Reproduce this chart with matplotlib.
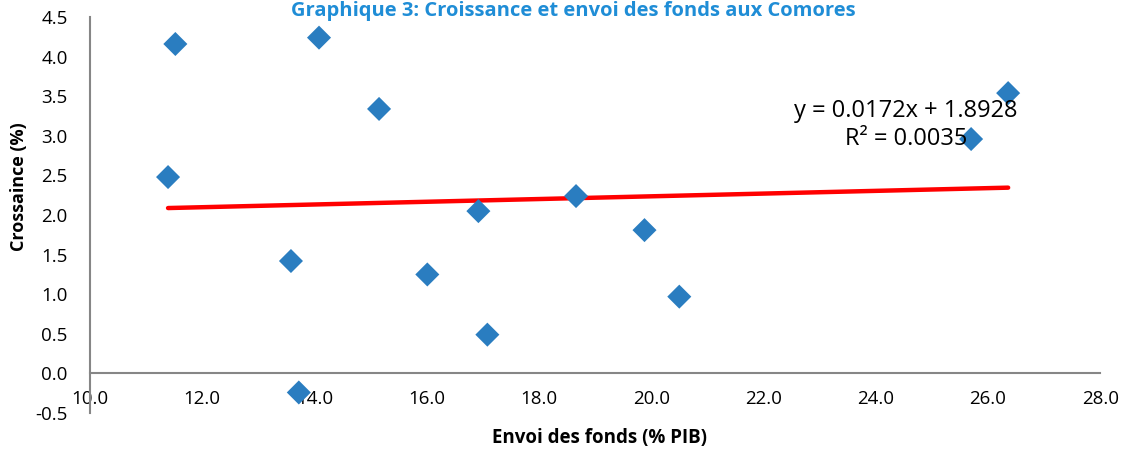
import matplotlib.pyplot as plt

# Envoi des fonds (% PIB) vs Croissance (%)
envoi = [11.39, 11.52, 14.08, 13.58, 13.72, 15.15, 16.01, 16.92, 17.08, 18.66, 19.88, 20.50, 25.70, 26.36]
croissance = [2.48, 4.16, 4.24, 1.42, -0.24, 3.34, 1.25, 2.05, 0.49, 2.24, 1.81, 0.97, 2.96, 3.54]

# linear trend shown on the chart
pente = 0.0172
ordonnee = 1.8928
r2 = 0.0035

xticks = [10.0, 12.0, 14.0, 16.0, 18.0, 20.0, 22.0, 24.0, 26.0, 28.0]
yticks = [-0.5, 0.0, 0.5, 1.0, 1.5, 2.0, 2.5, 3.0, 3.5, 4.0, 4.5]

plt.rcParams['font.family'] = ['Open Sans', 'DejaVu Sans']

fig = plt.figure(figsize=(11.27, 4.49), dpi=100)
ax = fig.add_axes([0.0799, 0.080, 0.8963, 0.882])

grey = '#868686'
ax.scatter(envoi, croissance, marker='D', s=150, color='#2A7DC0', edgecolors='none', zorder=3)

x0, x1 = min(envoi), max(envoi)
ax.plot([x0, x1], [pente * x0 + ordonnee, pente * x1 + ordonnee], color='#FF0000', lw=3.2,
        solid_capstyle='round', zorder=2)

ax.text(0.808, 0.727, 'y = %.4fx + %.4f\nR² = %.4f' % (pente, ordonnee, r2), transform=ax.transAxes,
        ha='center', va='center', fontsize=17, linespacing=1.25, color='#000000')

ax.set_xlim(10, 28)
ax.set_ylim(-0.5, 4.5)
ax.set_xticks(xticks)
ax.set_yticks(yticks)
ax.set_xticklabels(['%.1f' % v for v in xticks])
ax.set_yticklabels(['%.1f' % v for v in yticks])

for s in ['top', 'right']:
    ax.spines[s].set_visible(False)
ax.spines['bottom'].set_position(('data', 0))
ax.spines['bottom'].set_color(grey)
ax.spines['left'].set_color(grey)
ax.spines['bottom'].set_linewidth(1.5)
ax.spines['left'].set_linewidth(1.5)
ax.tick_params(axis='both', length=0, labelsize=13.5, colors='#000000')
ax.tick_params(axis='y', pad=16)
ax.tick_params(axis='x', pad=12)

fig.text(0.0173, 0.584, 'Crossaince (%)', rotation=90, ha='center', va='center', fontsize=13, fontweight='bold')
fig.text(0.532, 0.0245, 'Envoi des fonds (% PIB)', ha='center', va='center', fontsize=13.5, fontweight='bold')
fig.text(0.509, 0.976, 'Graphique 3: Croissance et envoi des fonds aux Comores', ha='center', va='center',
         fontsize=14.5, fontweight='bold', color='#1F8DD6')

fig.savefig('out.png', dpi=100)
